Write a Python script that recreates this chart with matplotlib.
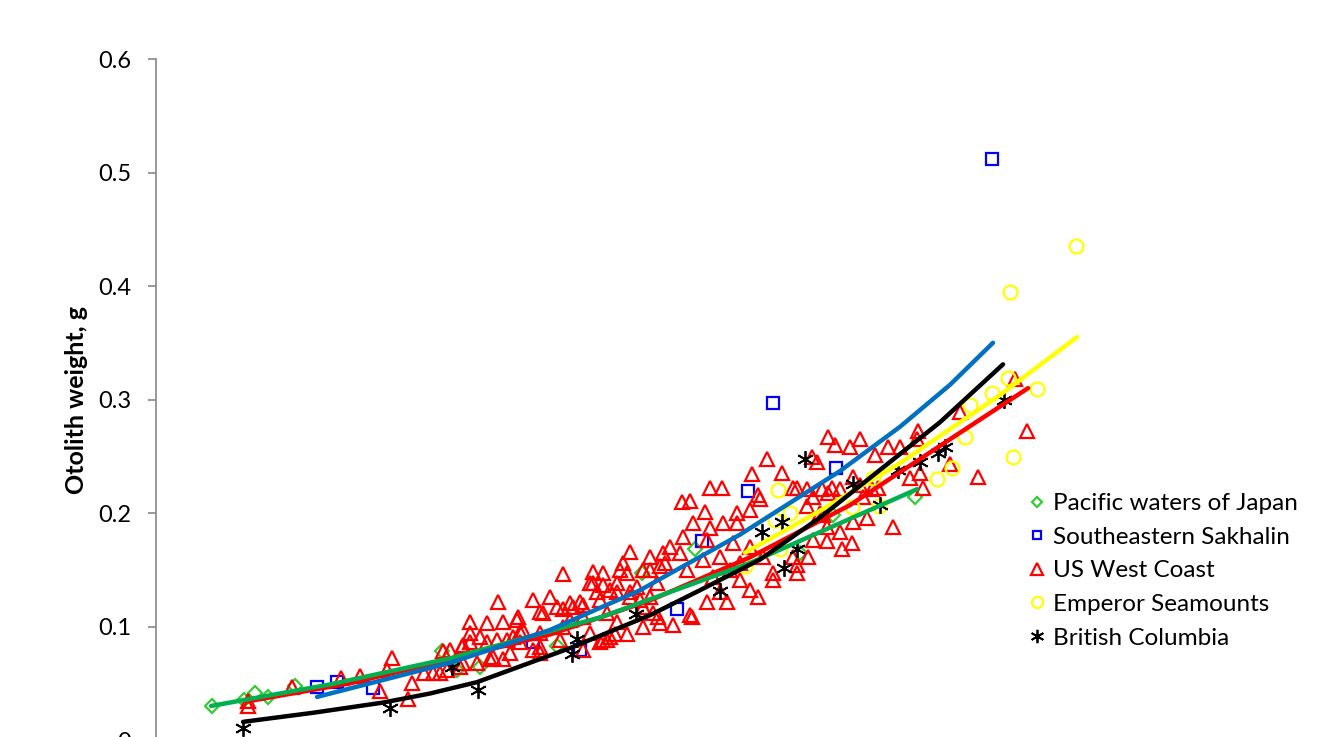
import matplotlib.pyplot as plt

plt.rcParams['font.family'] = ['Lato', 'DejaVu Sans']

# fish length (x) and otolith weight, g (y)
japan_x = [10.6, 12.2, 12.75, 13.4, 14.75, 22.1, 22.85, 24.0, 27.85, 32.1, 34.75, 40.0, 41.65, 45.75]
japan_y = [0.030, 0.035, 0.041, 0.038, 0.048, 0.078, 0.062, 0.064, 0.083, 0.147, 0.168, 0.165, 0.198, 0.214]

sakhalin_x = [15.85, 16.85, 18.65, 26.65, 29.0, 33.85, 35.1, 37.4, 38.65, 41.8, 49.6]
sakhalin_y = [0.047, 0.051, 0.046, 0.086, 0.079, 0.115, 0.175, 0.219, 0.297, 0.240, 0.512]

uswc_x = [12.4, 12.4, 14.6, 17.05, 18.0, 19.6, 19.35, 19.0, 20.4, 20.6, 21.2, 22.0, 22.15, 22.5,
          22.35, 23.1, 23.5, 24.9, 26.65, 27.5, 28.15, 29.65, 30.15, 29.5, 31.5, 31.15, 31.0, 32.15,
          23.5, 24.35, 25.15, 25.85, 26.15, 27.15, 28.15, 28.65, 29.15, 30.0, 30.85, 31.5, 32.0, 32.15,
          31.35, 30.5, 29.15, 30.0, 27.0, 26.65, 25.15, 24.5, 23.15, 25.35, 26.0, 28.0, 24.35, 23.5,
          27.0, 28.15, 31.35, 25.9, 23.15, 24.0, 24.85, 25.65, 27.0, 27.85, 28.5, 29.0, 29.85, 30.5,
          31.85, 32.85, 32.5, 33.0, 29.65, 30.15, 30.85, 31.5, 32.15, 32.65, 30.75, 30.15, 29.5, 27.0,
          25.5, 24.65, 23.85, 23.0, 21.65, 26.0, 28.5, 29.15, 30.35, 30.85,
          37.6, 39.1, 35.5, 36.1, 34.1, 34.5, 35.25, 33.5, 34.65, 35.5, 36.15, 36.85, 36.85, 37.5,
          38.0, 39.85, 40.65, 41.1, 40.35, 41.0, 41.35, 40.65, 40.4, 39.85, 39.85, 38.65, 37.9, 36.35,
          35.35, 34.5, 33.65, 32.9, 32.5, 34.0, 33.15, 32.5, 34.35, 35.15, 36.0, 36.5, 35.65, 37.0,
          37.5, 36.0, 37.0, 37.5, 36.65, 38.15, 38.65, 39.65, 35.35, 34.15, 42.0, 41.35,
          41.4, 41.75, 38.35, 40.85, 40.6, 37.9, 39.65, 40.35, 41.6,
          43.0, 42.5, 43.75, 44.4, 45.0, 45.9, 45.85, 45.5, 46.0, 46.15, 47.5, 48.0, 48.9, 51.35,
          44.65, 42.65, 43.0, 43.9, 42.0, 41.4, 42.65, 43.35, 42.1, 42.6, 41.15, 43.15, 43.6, 50.75,
          33.25, 34.6, 33.0, 30.35]
uswc_y = [0.034, 0.030, 0.047, 0.055, 0.056, 0.072, 0.062, 0.043, 0.036, 0.050, 0.059, 0.059, 0.078, 0.079,
          0.062, 0.082, 0.104, 0.122, 0.123, 0.126, 0.146, 0.148, 0.147, 0.138, 0.166, 0.156, 0.150, 0.150,
          0.094, 0.103, 0.104, 0.106, 0.097, 0.112, 0.115, 0.117, 0.119, 0.123, 0.130, 0.130, 0.123, 0.100,
          0.093, 0.091, 0.079, 0.086, 0.077, 0.079, 0.071, 0.071, 0.068, 0.088, 0.086, 0.088, 0.086, 0.086,
          0.094, 0.100, 0.147, 0.108, 0.084, 0.091, 0.088, 0.091, 0.113, 0.117, 0.121, 0.122, 0.130, 0.132,
          0.135, 0.138, 0.150, 0.153, 0.138, 0.137, 0.138, 0.126, 0.117, 0.112, 0.093, 0.088, 0.094, 0.082,
          0.077, 0.073, 0.068, 0.064, 0.059, 0.095, 0.106, 0.108, 0.112, 0.104,
          0.234, 0.235, 0.222, 0.222, 0.210, 0.211, 0.201, 0.170, 0.191, 0.187, 0.191, 0.200, 0.191, 0.203,
          0.212, 0.222, 0.214, 0.221, 0.206, 0.200, 0.188, 0.176, 0.161, 0.154, 0.147, 0.141, 0.126, 0.122,
          0.122, 0.110, 0.101, 0.108, 0.126, 0.165, 0.165, 0.161, 0.150, 0.159, 0.161, 0.150, 0.144, 0.141,
          0.132, 0.130, 0.156, 0.170, 0.174, 0.161, 0.147, 0.161, 0.176, 0.179, 0.183, 0.175,
          0.267, 0.260, 0.248, 0.245, 0.249, 0.216, 0.222, 0.221, 0.222,
          0.265, 0.258, 0.251, 0.258, 0.258, 0.272, 0.265, 0.231, 0.235, 0.222, 0.243, 0.289, 0.232, 0.272,
          0.188, 0.232, 0.225, 0.222, 0.221, 0.218, 0.192, 0.196, 0.168, 0.174, 0.198, 0.214, 0.221, 0.318,
          0.156, 0.108, 0.103, 0.088]

emperor_x = [37.25, 38.75, 38.9, 39.0, 39.5, 42.6, 43.65, 43.95, 46.85, 47.6, 48.25, 48.5, 49.6, 50.4,
             50.5, 50.65, 51.85, 53.8]
emperor_y = [0.153, 0.194, 0.220, 0.168, 0.200, 0.205, 0.231, 0.206, 0.230, 0.240, 0.267, 0.295, 0.306,
             0.319, 0.395, 0.249, 0.309, 0.435]

bc_x = [12.15, 19.5, 22.6, 23.9, 28.6, 28.85, 31.8, 36.0, 38.1, 39.1, 39.2, 39.85, 40.25, 42.65, 44.0,
        44.9, 46.0, 46.9, 47.25, 50.2]
bc_y = [0.011, 0.028, 0.064, 0.044, 0.076, 0.089, 0.111, 0.131, 0.183, 0.192, 0.152, 0.168, 0.248, 0.226,
        0.207, 0.238, 0.245, 0.253, 0.258, 0.300]

# trendlines
japan_fit_x = [10.55, 16.5, 22.5, 30.0, 37.5, 45.85]
japan_fit_y = [0.030, 0.049, 0.072, 0.108, 0.156, 0.221]
sakhalin_fit_x = [15.85, 22.5, 27.5, 32.0, 37.0, 42.0, 45.0, 47.5, 49.65]
sakhalin_fit_y = [0.038, 0.068, 0.097, 0.132, 0.181, 0.237, 0.276, 0.313, 0.350]
uswc_fit_x = [12.35, 17.5, 22.5, 27.5, 32.5, 37.5, 42.5, 47.5, 51.4]
uswc_fit_y = [0.034, 0.050, 0.071, 0.093, 0.123, 0.161, 0.207, 0.265, 0.310]
emperor_fit_x = [37.25, 41.0, 45.0, 50.0, 53.85]
emperor_fit_y = [0.165, 0.202, 0.244, 0.304, 0.355]
bc_fit_x = [12.15, 15.65, 19.15, 21.5, 23.85, 28.5, 32.5, 35.0, 38.0, 41.0, 44.0, 47.0, 50.15]
bc_fit_y = [0.016, 0.024, 0.033, 0.041, 0.051, 0.081, 0.110, 0.132, 0.159, 0.196, 0.238, 0.280, 0.331]

labels = ["Pacific waters of Japan", "Southeastern Sakhalin", "US West Coast",
          "Emperor Seamounts", "British Columbia"]

fig = plt.figure(figsize=(13.43, 7.37), dpi=100)
ax = fig.add_axes([0.1162, -0.0041, 0.8838, 0.9240])

mk = dict(linestyle='none', markerfacecolor='none', markeredgewidth=1.6)
ax.plot(japan_x, japan_y, marker='D', ms=6.8, markeredgecolor='#33CC33', label=labels[0], **mk)
ax.plot(sakhalin_x, sakhalin_y, marker='s', ms=8, markeredgecolor='#0000FF', label=labels[1], **mk)
ax.plot(uswc_x, uswc_y, marker='^', ms=10.5, markeredgecolor='#FF0000', label=labels[2], **mk)
ax.plot(emperor_x, emperor_y, marker='o', ms=10, markeredgecolor='#FFFF00', label=labels[3], **mk)
ax.plot(bc_x, bc_y, marker=(6, 2, 0), ms=12, markeredgecolor='black', label=labels[4],
        linestyle='none', markeredgewidth=1.3)

lw = 3.2
ax.plot(uswc_fit_x, uswc_fit_y, color='#FF0000', lw=lw, solid_capstyle='round', zorder=5)
ax.plot(japan_fit_x, japan_fit_y, color='#00B050', lw=lw, solid_capstyle='round', zorder=5)
ax.plot(sakhalin_fit_x, sakhalin_fit_y, color='#0070C0', lw=lw, solid_capstyle='round', zorder=5)
ax.plot(emperor_fit_x, emperor_fit_y, color='#FFFF00', lw=lw, solid_capstyle='round', zorder=5)
ax.plot(bc_fit_x, bc_fit_y, color='black', lw=lw, solid_capstyle='round', zorder=5)

ax.set_xlim(7.8, 67.15)
ax.set_ylim(0, 0.6)
ax.set_yticks([0, 0.1, 0.2, 0.3, 0.4, 0.5, 0.6])
ax.set_yticklabels(["0", "0.1", "0.2", "0.3", "0.4", "0.5", "0.6"])
ax.set_xticks([])
for s in ['top', 'right', 'bottom']:
    ax.spines[s].set_visible(False)
ax.spines['left'].set_color('#868686')
ax.spines['left'].set_linewidth(1.2)
ax.tick_params(axis='y', direction='out', length=6, width=1.2, color='#868686',
               labelsize=17, pad=12, labelcolor='black')

ax.set_ylabel("Otolith weight, g", fontsize=18, fontweight='bold')
ax.yaxis.set_label_coords(-0.057, 0.5)

ax.legend(loc='upper left', bbox_to_anchor=(1030 / 1343, 1 - 493 / 737),
          bbox_transform=fig.transFigure, frameon=False, fontsize=17.5,
          handlelength=0.6, handletextpad=0.35, labelspacing=0.52, markerscale=0.8,
          borderaxespad=0, borderpad=0)

fig.savefig("out.png", dpi=100)
